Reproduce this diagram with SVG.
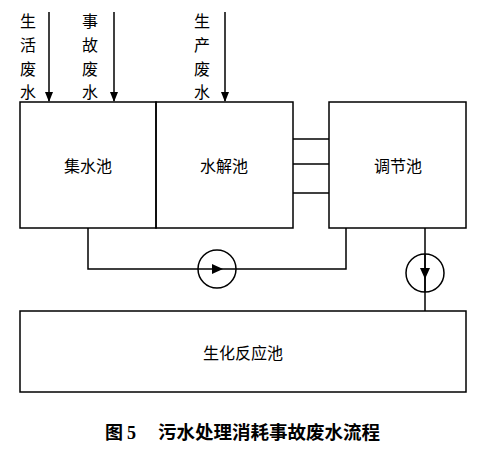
<svg xmlns="http://www.w3.org/2000/svg" width="486" height="450" viewBox="0 0 486 450">
<style>
.box{fill:none;stroke:#000;stroke-width:1.5}
.ln{fill:none;stroke:#000;stroke-width:1.5}
.t{font-family:"Noto Sans CJK SC","Liberation Sans",sans-serif;font-size:16px;fill:#000;text-anchor:middle;dominant-baseline:central}
.cap{font-family:"Noto Sans CJK SC","Liberation Sans",sans-serif;font-size:18px;font-weight:bold;fill:#000}
.capn{font-family:"Liberation Serif","Noto Sans CJK SC",serif}
</style>
<defs>
<marker id="ah" markerWidth="10" markerHeight="10" refX="9" refY="5" orient="auto" markerUnits="userSpaceOnUse">
<path d="M0,1 L10,5 L0,9 Z" fill="#000"/>
</marker>
</defs>
<rect width="486" height="450" fill="#fff"/>
<g id="connectors">
<line class="ln" x1="49" y1="12" x2="49" y2="101" marker-end="url(#ah)"/>
<line class="ln" x1="114" y1="12" x2="114" y2="101" marker-end="url(#ah)"/>
<line class="ln" x1="225" y1="12" x2="225" y2="101" marker-end="url(#ah)"/>
<line class="ln" x1="293" y1="139" x2="329" y2="139"/>
<line class="ln" x1="293" y1="164" x2="329" y2="164"/>
<line class="ln" x1="293" y1="193" x2="329" y2="193"/>
<polyline class="ln" points="88,228 88,269 346,269 346,228"/>
<circle class="ln" cx="217" cy="269" r="19" fill="#fff"/>
<path d="M212,264 L223,269 L212,274 Z" fill="#000"/>
<line class="ln" x1="425" y1="228" x2="425" y2="311"/>
<circle class="ln" cx="425" cy="273" r="19" fill="#fff"/>
<line class="ln" x1="425" y1="254" x2="425" y2="292"/>
<path d="M420,268 L425,279 L430,268 Z" fill="#000"/>
</g>
<g id="labels">
<text class="t" x="28" y="20">生</text>
<text class="t" x="28" y="44">活</text>
<text class="t" x="28" y="68">废</text>
<text class="t" x="28" y="91">水</text>
<text class="t" x="90" y="20">事</text>
<text class="t" x="90" y="44">故</text>
<text class="t" x="90" y="68">废</text>
<text class="t" x="90" y="91">水</text>
<text class="t" x="202" y="20">生</text>
<text class="t" x="202" y="44">产</text>
<text class="t" x="202" y="68">废</text>
<text class="t" x="202" y="91">水</text>
</g>
<g id="jishuichi">
<rect class="box" x="20" y="102" width="136" height="126"/>
<text class="t" x="88" y="165">集水池</text>
</g>
<g id="shuijiechi">
<rect class="box" x="156" y="102" width="137" height="126"/>
<text class="t" x="224" y="165">水解池</text>
</g>
<g id="tiaojiechi">
<rect class="box" x="329" y="102" width="137" height="126"/>
<text class="t" x="398" y="165">调节池</text>
</g>
<g id="shenghua">
<rect class="box" x="20" y="311" width="446" height="81"/>
<text class="t" x="243" y="352">生化反应池</text>
</g>
<g id="caption">
<text class="cap" x="105" y="439">图 <tspan class="capn">5</tspan></text>
<text class="cap" x="158" y="439" textLength="222" lengthAdjust="spacingAndGlyphs">污水处理消耗事故废水流程</text>
</g>
</svg>
